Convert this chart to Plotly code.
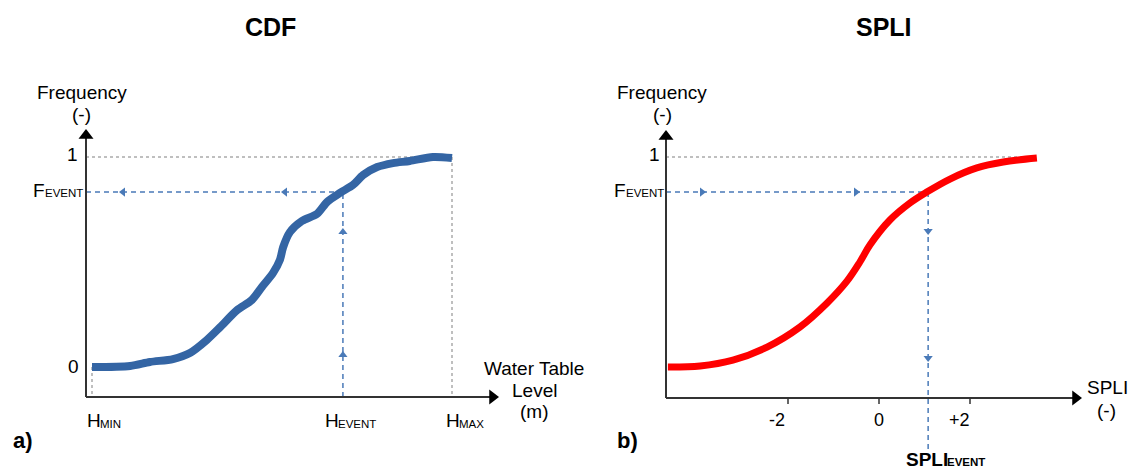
import plotly.graph_objects as go

W, H = 1131, 469

# ---------------- data ----------------
cdf_level = [0, 1.06, 1.61, 2.25, 2.72, 3.19, 3.56, 4.03, 4.44, 4.72, 5.03, 5.22, 5.31,
             5.5, 5.83, 6.25, 6.53, 6.89, 7.25, 7.53, 7.92, 8.36, 8.83, 9.47, 10]
cdf_freq = [0, 0.005, 0.024, 0.038, 0.067, 0.129, 0.19, 0.271, 0.319, 0.381, 0.448, 0.51, 0.571,
            0.643, 0.695, 0.729, 0.786, 0.829, 0.867, 0.914, 0.952, 0.971, 0.981, 1.0, 0.995]
spli_vals = [-4.64, -3.93, -3.21, -2.46, -1.74, -1.14, -0.70, -0.42, -0.20, 0.24, 0.68,
             1.05, 1.56, 2.15, 2.73, 3.47]
spli_freq = [0.0, 0.005, 0.033, 0.095, 0.19, 0.305, 0.410, 0.500, 0.581, 0.700, 0.781,
             0.833, 0.895, 0.948, 0.976, 0.995]
h_min, h_event, h_max = 0, 6.97, 10
f_event = 0.833
s_event = 1.08
spli_ticks = [-2, 0, 2]
spli_ticktext = ["-2", "0", "+2"]

# ---------------- pixel helpers (layout only) ----------------
def hx(px):
    return (px - 92) / 36.0

def sx(px):
    return (px - 879) / 45.5

def fy(py):
    return (367 - py) / 210.0

FONT = "Liberation Sans, Arial, sans-serif"
BLUE_D = "#4a7ab8"
GRAY = "#aaaaaa"
AX = "#333333"

fig = go.Figure()

def line(xs, ys, color, width, dash="solid", ax="x", ay="y"):
    fig.add_trace(go.Scatter(x=xs, y=ys, mode="lines", xaxis=ax, yaxis=ay,
                             line=dict(color=color, width=width, dash=dash),
                             hoverinfo="skip", showlegend=False))

def marks(xs, ys, symbol, size, color, ax="x", ay="y"):
    fig.add_trace(go.Scatter(x=xs, y=ys, mode="markers", xaxis=ax, yaxis=ay,
                             marker=dict(symbol=symbol, size=size, color=color,
                                         line=dict(width=0)),
                             hoverinfo="skip", showlegend=False, cliponaxis=False))

# ---------- left panel (CDF) ----------
line([hx(86), h_max, None, h_max, h_max, None, h_min, h_min],
     [1, 1, None, 1, fy(397), None, 0, fy(397)], GRAY, 1.5, "dot")
line([hx(86), h_event, None, h_event, h_event],
     [f_event, f_event, None, fy(397), f_event], BLUE_D, 1.5, "5px,4px")
marks([hx(123), hx(285)], [f_event, f_event], "triangle-left", 8, BLUE_D)
marks([h_event, h_event], [fy(355), fy(232)], "triangle-up", 8, BLUE_D)
fig.add_trace(go.Scatter(x=cdf_level, y=cdf_freq, mode="lines", xaxis="x", yaxis="y",
                         line=dict(color="#3465a4", width=8, shape="spline", smoothing=0.8),
                         hoverinfo="skip", showlegend=False))
line([hx(86), hx(86), None, hx(86), hx(493)],
     [fy(136), fy(397), None, fy(397), fy(397)], AX, 2)
marks([hx(86)], [fy(135.5)], "triangle-up", 13, "black")
marks([hx(492.5)], [fy(397)], "triangle-right", 13, "black")

# ---------- right panel (SPLI) ----------
line([sx(666), spli_vals[-1]], [1, 1], GRAY, 1.5, "dot", "x2", "y2")
line([sx(666), s_event, None, s_event, s_event],
     [f_event, f_event, None, f_event, fy(450)], BLUE_D, 1.5, "5px,4px", "x2", "y2")
marks([sx(702), sx(856)], [f_event, f_event], "triangle-right", 8, BLUE_D, "x2", "y2")
marks([s_event, s_event], [fy(231), fy(358)], "triangle-down", 8, BLUE_D, "x2", "y2")
fig.add_trace(go.Scatter(x=spli_vals, y=spli_freq, mode="lines", xaxis="x2", yaxis="y2",
                         line=dict(color="#ff0000", width=7, shape="spline", smoothing=1.0),
                         hoverinfo="skip", showlegend=False))
line([sx(666), sx(666), None, sx(666), sx(1076)],
     [fy(136), fy(398), None, fy(398), fy(398)], AX, 2, "solid", "x2", "y2")
tx, ty = [], []
for t in spli_ticks:
    tx += [t, t, None]
    ty += [fy(398), fy(404), None]
line(tx, ty, AX, 1.5, "solid", "x2", "y2")
marks([sx(666)], [fy(136.5)], "triangle-up", 13, "black", "x2", "y2")
marks([sx(1075.5)], [fy(398)], "triangle-right", 13, "black", "x2", "y2")

# ---------------- text ----------------
ann = []

def txt(s, px, py, size=19, bold=False, anchor="center", color="black"):
    ann.append(dict(text=("<b>%s</b>" % s) if bold else s, x=px / W, y=1 - py / H,
                    xref="paper", yref="paper", xanchor=anchor, yanchor="middle",
                    showarrow=False, font=dict(family=FONT, size=size, color=color)))

txt("CDF", 270, 27, 25, True)
txt("SPLI", 884, 27, 25, True)
txt("a)", 23, 440, 22, True)
txt("b)", 628, 440, 22, True)
for cx in (82, 662):
    txt("Frequency", cx, 92)
    txt("(-)", cx, 114)
txt("1", 72, 154)
txt("0", 73, 366)
txt("1", 654, 154)
for fx in (31, 612):
    txt("F", fx, 190, 19, anchor="left")
    txt("EVENT", fx + 12, 193, 11.5, anchor="left")
for hxp, sub in ((85, "MIN"), (323, "EVENT"), (444, "MAX")):
    txt("H", hxp, 420, 19, anchor="left")
    txt(sub, hxp + 13, 423.5, 11.5, anchor="left")
txt("Water Table", 534, 368)
txt("Level", 534, 390)
txt("(m)", 534, 411)
txt("SPLI", 1107, 387)
txt("(-)", 1106, 410)
txt("SPLI", 904, 459, 19, True, "left")
txt("EVENT", 945, 462, 11.5, True, "left")

shifts = [-11, 0, -11]
for t, lab, sh in zip(spli_ticks, spli_ticktext, shifts):
    ann.append(dict(text=lab, x=t, y=1 - 420 / H, xref="x2", yref="paper",
                    xanchor="center", yanchor="middle", xshift=sh, showarrow=False,
                    font=dict(family=FONT, size=18, color="black")))

hidden = dict(visible=False, fixedrange=True)
fig.update_layout(
    width=W, height=H, margin=dict(l=0, r=0, t=0, b=0),
    paper_bgcolor="white", plot_bgcolor="white", showlegend=False,
    xaxis=dict(domain=[40 / W, 560 / W], range=[hx(40), hx(560)], **hidden),
    yaxis=dict(domain=[0, 1 - 120 / H], range=[fy(469), fy(120)], **hidden),
    xaxis2=dict(domain=[620 / W, 1100 / W], range=[sx(620), sx(1100)], **hidden),
    yaxis2=dict(domain=[0, 1 - 120 / H], range=[fy(469), fy(120)], anchor="x2", **hidden),
    annotations=ann,
)

fig.write_html("out.html", config={"displayModeBar": False})
